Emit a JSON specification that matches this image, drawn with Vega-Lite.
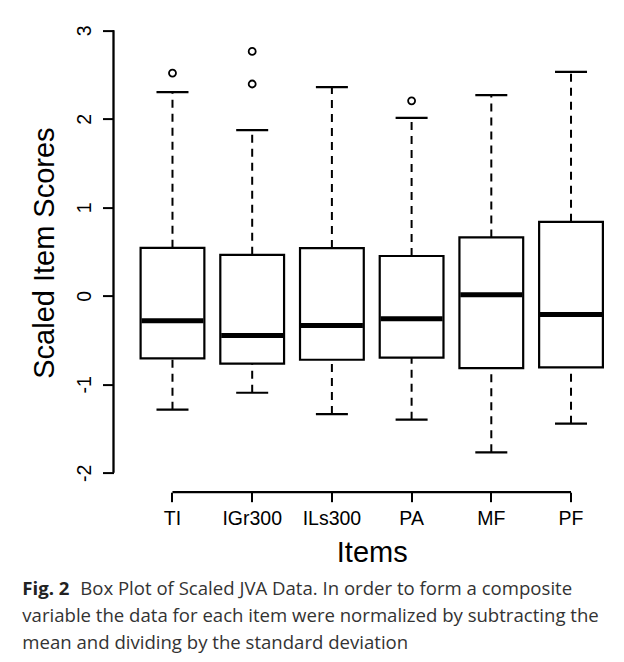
{
  "$schema": "https://vega.github.io/schema/vega-lite/v6.json",
  "autosize": {"type": "none"},
  "width": 516.5,
  "height": 479.6,
  "padding": {"left": 113.5, "top": 12.6, "right": 0, "bottom": 170},
  "background": "white",
  "config": {"view": {"stroke": null}, "font": "Liberation Sans"},
  "title": {
    "text": "Fig. 2",
    "subtitle": ["\u200b\u00a0\u00a0\u00a0\u00a0\u00a0\u00a0\u00a0\u00a0\u00a0\u00a0\u00a0\u00a0Box Plot of Scaled JVA Data. In order to form a composite", "variable the data for each item were normalized by subtracting the", "mean and dividing by the standard deviation"],
    "orient": "bottom",
    "anchor": "start",
    "frame": "group",
    "dx": -91.2,
    "offset": 12.5,
    "font": "Open Sans",
    "fontSize": 18.6,
    "fontWeight": "bold",
    "color": "#222222",
    "subtitleFont": "Open Sans",
    "subtitleFontSize": 18.6,
    "subtitleFontWeight": "normal",
    "subtitleColor": "#333333",
    "subtitleLineHeight": 27,
    "subtitlePadding": -18.6
  },
  "datasets": {
    "boxes": [
      {"item": "TI", "lower": -1.288, "q1": -0.708, "median": -0.282, "q3": 0.542, "upper": 2.302},
      {"item": "IGr300", "lower": -1.096, "q1": -0.768, "median": -0.448, "q3": 0.463, "upper": 1.872},
      {"item": "ILs300", "lower": -1.337, "q1": -0.723, "median": -0.335, "q3": 0.539, "upper": 2.358},
      {"item": "PA", "lower": -1.4, "q1": -0.7, "median": -0.26, "q3": 0.449, "upper": 2.011},
      {"item": "MF", "lower": -1.77, "q1": -0.817, "median": 0.011, "q3": 0.659, "upper": 2.268},
      {"item": "PF", "lower": -1.446, "q1": -0.81, "median": -0.211, "q3": 0.836, "upper": 2.531}
    ],
    "outliers": [
      {"item": "TI", "value": 2.516},
      {"item": "IGr300", "value": 2.761},
      {"item": "IGr300", "value": 2.393},
      {"item": "PA", "value": 2.203}
    ]
  },
  "layer": [
    {
      "data": {"name": "boxes"},
      "mark": {"type": "rule", "color": "black", "opacity": 1, "strokeWidth": 2, "strokeDash": [8, 6]},
      "encoding": {
        "x": {"field": "item", "type": "nominal", "sort": ["TI", "IGr300", "ILs300", "PA", "MF", "PF"], "scale": {"type": "band", "paddingInner": 0.2, "paddingOuter": 0.34},
          "axis": {"title": "Items", "domain": false, "grid": false, "ticks": true, "tickSize": 9.5, "tickWidth": 2, "tickColor": "black", "labelAngle": 0, "labelFont": "Liberation Sans", "labelFontSize": 19.5, "labelColor": "black", "labelBaseline": "alphabetic", "labelPadding": 23, "titleFont": "Liberation Sans", "titleFontSize": 29, "titleFontWeight": "normal", "titleColor": "black", "titleBaseline": "alphabetic", "titleY": 69.4}},
        "y": {"field": "q3", "type": "quantitative", "scale": {"domain": [-2.22, 3.2], "nice": false, "zero": false},
          "axis": {"title": "Scaled Item Scores", "values": [-2, -1, 0, 1, 2, 3], "domain": false, "grid": false, "tickSize": 11, "tickWidth": 2, "tickColor": "black", "labelAngle": -90, "labelAlign": "center", "labelBaseline": "alphabetic", "labelPadding": 12, "labelFont": "Liberation Sans", "labelFontSize": 19.5, "labelColor": "black", "labelExpr": "'' + datum.value", "labelFlush": false, "labelOverlap": false, "titleFont": "Liberation Sans", "titleFontSize": 29, "titleFontWeight": "normal", "titleColor": "black", "titleAngle": -90, "titleAlign": "center", "titleBaseline": "alphabetic", "titleX": -60, "titleY": 240}},
        "y2": {"field": "upper"}
      }
    },
    {
      "data": {"name": "boxes"},
      "mark": {"type": "rule", "color": "black", "opacity": 1, "strokeWidth": 2, "strokeDash": [8, 6]},
      "encoding": {
        "x": {"field": "item", "type": "nominal", "sort": ["TI", "IGr300", "ILs300", "PA", "MF", "PF"]},
        "y": {"field": "lower", "type": "quantitative"},
        "y2": {"field": "q1"}
      }
    },
    {
      "data": {"name": "boxes"},
      "mark": {"type": "tick", "color": "black", "opacity": 1, "size": 32, "thickness": 2.2, "orient": "horizontal"},
      "encoding": {
        "x": {"field": "item", "type": "nominal", "sort": ["TI", "IGr300", "ILs300", "PA", "MF", "PF"]},
        "y": {"field": "upper", "type": "quantitative"}
      }
    },
    {
      "data": {"name": "boxes"},
      "mark": {"type": "tick", "color": "black", "opacity": 1, "size": 32, "thickness": 2.2, "orient": "horizontal"},
      "encoding": {
        "x": {"field": "item", "type": "nominal", "sort": ["TI", "IGr300", "ILs300", "PA", "MF", "PF"]},
        "y": {"field": "lower", "type": "quantitative"}
      }
    },
    {
      "data": {"name": "boxes"},
      "mark": {"type": "bar", "fill": "white", "stroke": "black", "strokeWidth": 2.2, "opacity": 1},
      "encoding": {
        "x": {"field": "item", "type": "nominal", "sort": ["TI", "IGr300", "ILs300", "PA", "MF", "PF"]},
        "y": {"field": "q1", "type": "quantitative"},
        "y2": {"field": "q3"}
      }
    },
    {
      "data": {"name": "boxes"},
      "mark": {"type": "tick", "color": "black", "opacity": 1, "size": 62, "thickness": 5, "orient": "horizontal"},
      "encoding": {
        "x": {"field": "item", "type": "nominal", "sort": ["TI", "IGr300", "ILs300", "PA", "MF", "PF"]},
        "y": {"field": "median", "type": "quantitative"}
      }
    },
    {
      "data": {"name": "outliers"},
      "mark": {"type": "point", "shape": "circle", "filled": false, "color": "black", "opacity": 1, "strokeWidth": 1.8, "size": 49},
      "encoding": {
        "x": {"field": "item", "type": "nominal", "sort": ["TI", "IGr300", "ILs300", "PA", "MF", "PF"]},
        "y": {"field": "value", "type": "quantitative"}
      }
    },
    {
      "data": {"values": [{}]},
      "mark": {"type": "rule", "color": "black", "strokeWidth": 2.3},
      "encoding": {
        "x": {"value": 0},
        "y": {"datum": -2, "type": "quantitative"},
        "y2": {"datum": 3}
      }
    },
    {
      "data": {"values": [{}]},
      "mark": {"type": "rule", "color": "black", "strokeWidth": 2.3},
      "encoding": {
        "x": {"datum": "TI", "type": "nominal", "bandPosition": 0.5},
        "x2": {"datum": "PF", "bandPosition": 0.5},
        "y": {"datum": -2.22, "type": "quantitative"}
      }
    }
  ]
}
